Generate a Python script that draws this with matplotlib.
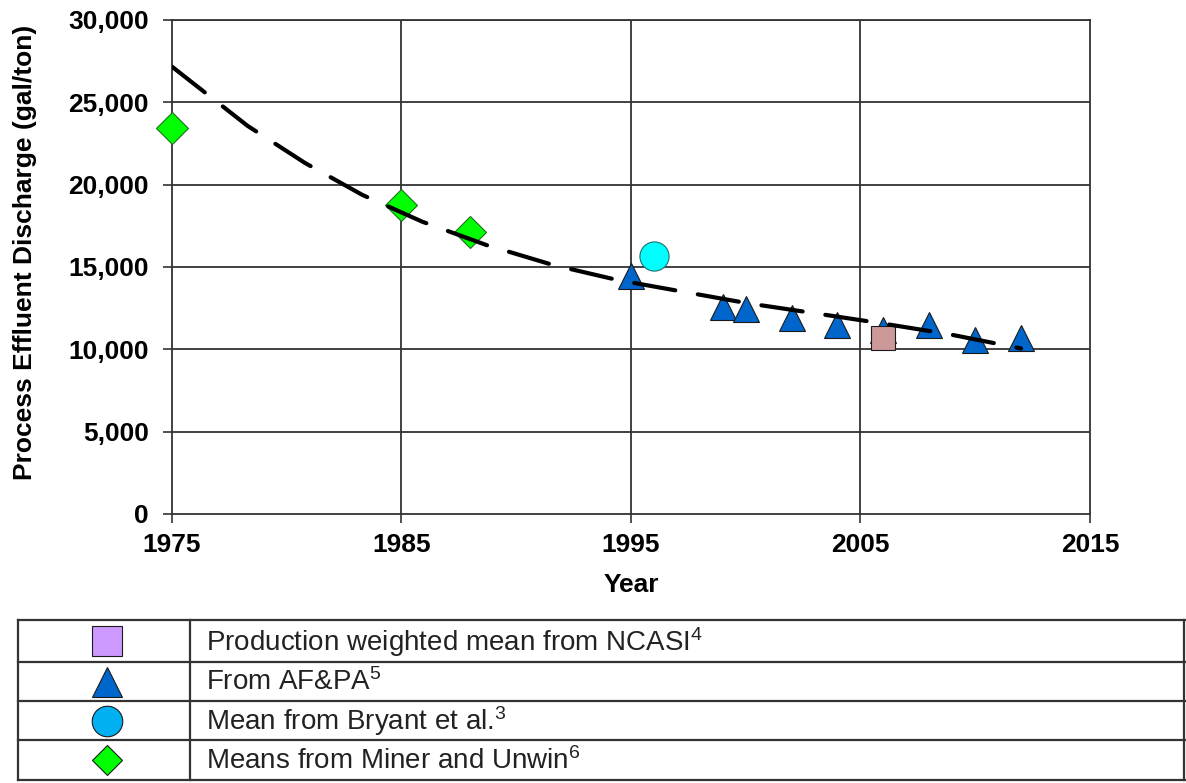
import matplotlib.pyplot as plt
from matplotlib.ticker import FuncFormatter

plt.rcParams['font.family'] = ['Liberation Sans', 'DejaVu Sans']
plt.rcParams['mathtext.default'] = 'regular'

# Effluent discharge data by source (gal/ton)
ncasi_years = [2006]
ncasi_values = [10700]

afpa_years = [1995, 1999, 2000, 2002, 2004, 2006, 2008, 2010, 2012]
afpa_values = [14430, 12570, 12460, 11910, 11475, 11170, 11475, 10545, 10670]

bryant_years = [1996]
bryant_values = [15665]

miner_years = [1975, 1985, 1988]
miner_values = [23420, 18760, 17140]

# Trend curve
trend_years = [1975, 1978.3, 1980.8, 1983.3, 1985.9, 1988.7, 1991.6, 1994.4,
               2000.1, 2003.0, 2005.9, 2008.8, 2012]
trend_values = [27160, 23560, 21310, 19370, 17750, 16330, 15120, 14210,
                12790, 12190, 11580, 10930, 10050]

legend_labels = ['Production weighted mean from NCASI$^4$',
                 'From AF&PA$^5$',
                 'Mean from Bryant et al.$^3$',
                 'Means from Miner and Unwin$^6$']

fig = plt.figure(figsize=(11.86, 7.83), dpi=100)
ax = fig.add_axes([0.145, 0.3436, 0.774, 0.631])

grid_kw = dict(color='#333333', lw=1.3, zorder=1)
for yv in range(5000, 30001, 5000):
    ax.axhline(yv, **grid_kw)
for xv in (1985, 1995, 2005):
    ax.axvline(xv, **grid_kw)

edge = '#1a1a1a'
ax.plot(afpa_years, afpa_values, ls='none', marker='^', ms=19,
        mfc='#0066CC', mec=edge, mew=0.8, zorder=3, clip_on=False)
ax.plot(miner_years, miner_values, ls='none', marker='D', ms=16,
        mfc='#00FF00', mec='#1f6f1f', mew=0.8, zorder=3, clip_on=False)
ax.plot(bryant_years, bryant_values, ls='none', marker='o', ms=21,
        mfc='#00FFFF', mec='#1f6f6f', mew=0.8, zorder=3, clip_on=False)
ax.plot(ncasi_years, ncasi_values, ls='none', marker='s', ms=17,
        mfc='#CC9999', mec=edge, mew=0.8, zorder=4, clip_on=False)
ax.plot(trend_years, trend_values, color='black', lw=3,
        dashes=(10, 5.5), dash_capstyle='round', zorder=5)

ax.set_xlim(1975, 2015)
ax.set_ylim(0, 30000)
ax.set_xticks([1975, 1985, 1995, 2005, 2015])
ax.set_yticks(range(0, 30001, 5000))
ax.yaxis.set_major_formatter(FuncFormatter(lambda v, p: f'{int(v):,}'))
ax.tick_params(axis='both', length=6.5, width=1.2, color='#333333',
               labelsize=19)
ax.tick_params(axis='y', pad=10)
ax.tick_params(axis='x', pad=7)
for lab in ax.get_xticklabels() + ax.get_yticklabels():
    lab.set_fontweight('bold')
for sp in ax.spines.values():
    sp.set_color('#333333')
    sp.set_linewidth(1.3)

ax.set_xlabel('Year', fontsize=19, fontweight='bold', labelpad=12)
ax.set_ylabel('Process Effluent Discharge (gal/ton)', fontsize=19,
              fontweight='bold')
ax.yaxis.set_label_coords(-0.147, 0.53)

# Legend drawn as a ruled table under the chart, in pixel coordinates
tab = fig.add_axes([0, 0, 1, 1], zorder=-1)
tab.set_xlim(0, 1186)
tab.set_ylim(783, 0)
tab.axis('off')

rows = [620, 662, 701, 740, 780]
line_kw = dict(color='#333333', lw=1.6)
for yv in rows:
    tab.plot([18, 1186], [yv, yv], **line_kw)
for xv in (18, 190, 1184):
    tab.plot([xv, xv], [rows[0], rows[-1]], **line_kw)

legend_markers = [('s', 21, '#CC99FF'), ('^', 22, '#0066CC'),
                  ('o', 22, '#00B0F0'), ('D', 15, '#00FF00')]
for i, (label, (mk, ms, fc)) in enumerate(zip(legend_labels, legend_markers)):
    yc = (rows[i] + rows[i + 1]) / 2
    tab.plot([107], [yc], ls='none', marker=mk, ms=ms, mfc=fc,
             mec=edge, mew=0.8)
    tab.text(206, yc + 1, label, fontsize=20, va='center', ha='left',
             color='#222222')

fig.savefig('out.png', dpi=100)
